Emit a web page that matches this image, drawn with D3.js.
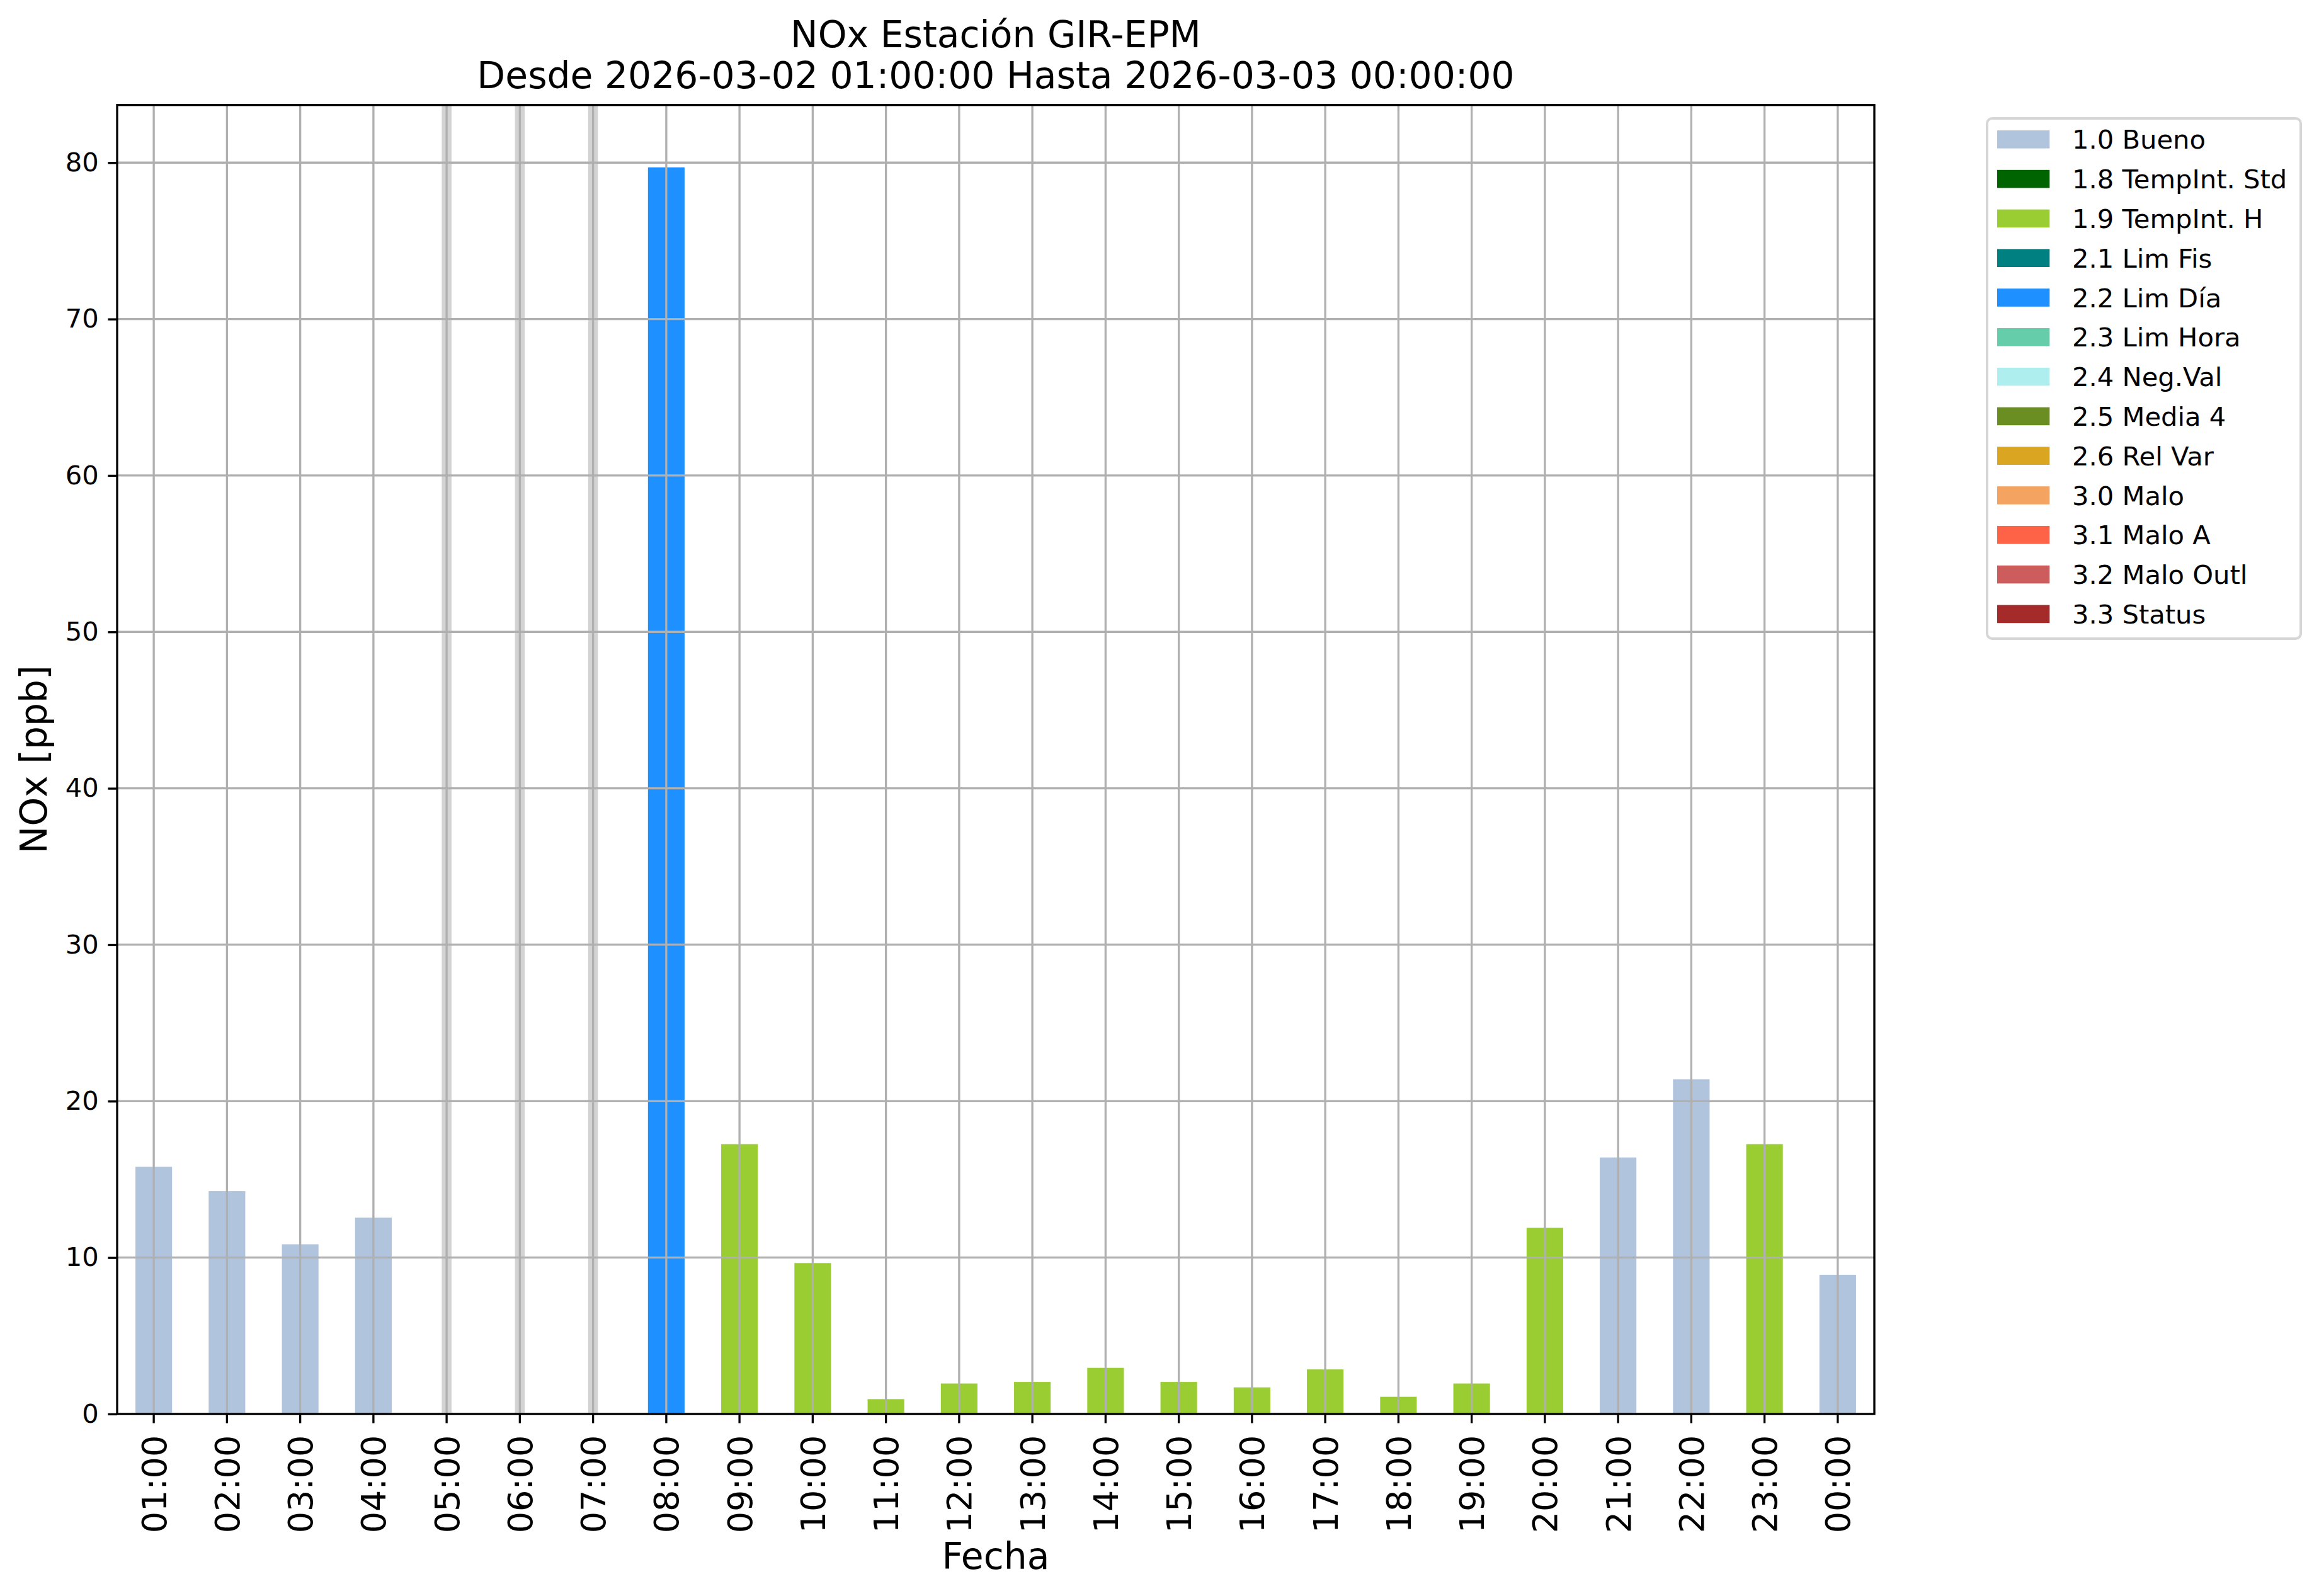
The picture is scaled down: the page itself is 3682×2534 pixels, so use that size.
<!DOCTYPE html>
<html>
<head>
<meta charset="utf-8">
<script src="https://cdn.jsdelivr.net/npm/d3@7"></script>
<style>
  body { margin: 0; background: #fff; }
  text { font-family: "DejaVu Sans", sans-serif; }
</style>
</head>
<body>
<div id="chart"></div>
<script>
// chart data
var hours = ["01:00", "02:00", "03:00", "04:00", "05:00", "06:00", "07:00", "08:00",
             "09:00", "10:00", "11:00", "12:00", "13:00", "14:00", "15:00", "16:00",
             "17:00", "18:00", "19:00", "20:00", "21:00", "22:00", "23:00", "00:00"];
var values = [15.8, 14.25, 10.85, 12.55, null, null, null, 79.7,
              17.25, 9.65, 0.95, 1.95, 2.05, 2.95, 2.05, 1.7,
              2.85, 1.1, 1.95, 11.9, 16.4, 21.4, 17.25, 8.9];
var flags = ["1.0", "1.0", "1.0", "1.0", null, null, null, "2.2",
             "1.9", "1.9", "1.9", "1.9", "1.9", "1.9", "1.9", "1.9",
             "1.9", "1.9", "1.9", "1.9", "1.0", "1.0", "1.9", "1.0"];
var flagCodes = ["1.0", "1.8", "1.9", "2.1", "2.2", "2.3", "2.4", "2.5", "2.6", "3.0", "3.1", "3.2", "3.3"];
var flagNames = ["1.0 Bueno", "1.8 TempInt. Std", "1.9 TempInt. H", "2.1 Lim Fis", "2.2 Lim Día",
                 "2.3 Lim Hora", "2.4 Neg.Val", "2.5 Media 4", "2.6 Rel Var", "3.0 Malo",
                 "3.1 Malo A", "3.2 Malo Outl", "3.3 Status"];
var flagColors = ["#b0c4de", "#006400", "#9acd32", "#008080", "#1e90ff", "#66cdaa", "#afeeee",
                  "#6b8e23", "#daa520", "#f4a460", "#ff6347", "#cd5c5c", "#a52a2a"];
var yTicks = [0, 10, 20, 30, 40, 50, 60, 70, 80];

var W = 3682, H = 2534;
var axLeft = 186, axRight = 2976, axTop = 166.7, axBottom = 2245;
var pt = 300 / 72;

var svg = d3.select("#chart").append("svg")
    .attr("width", W).attr("height", H);

var x = d3.scaleBand().domain(hours).range([axLeft, axRight]).padding(0);
var yMax = d3.max(values) * 1.05;
var y = d3.scaleLinear().domain([0, yMax]).range([axBottom, axTop]);
var color = d3.scaleOrdinal().domain(flagCodes).range(flagColors);

var data = hours.map(function(h, i){
    return {hour: h, value: values[i], flag: flags[i]};
});

// missing hours: light grey bands
svg.selectAll("rect.missing")
    .data(data.filter(function(d){ return d.value == null; }))
    .enter().append("rect")
    .attr("class", "missing")
    .attr("x", function(d){ return x(d.hour) + x.bandwidth() / 2 - 7.8; })
    .attr("width", 15.6)
    .attr("y", axTop)
    .attr("height", axBottom - axTop)
    .attr("fill", "#d3d3d3");

// bars
svg.selectAll("rect.bar")
    .data(data.filter(function(d){ return d.value != null; }))
    .enter().append("rect")
    .attr("class", "bar")
    .attr("x", function(d){ return x(d.hour) + x.bandwidth() * 0.25; })
    .attr("width", x.bandwidth() * 0.5)
    .attr("y", function(d){ return y(d.value); })
    .attr("height", function(d){ return axBottom - y(d.value); })
    .attr("fill", function(d){ return color(d.flag); });

// grid on top of the bars
var grid = svg.append("g").attr("stroke", "#b0b0b0").attr("stroke-width", 0.8 * pt);
grid.selectAll("line.v").data(hours).enter().append("line")
    .attr("x1", function(d){ return x(d) + x.bandwidth() / 2; })
    .attr("x2", function(d){ return x(d) + x.bandwidth() / 2; })
    .attr("y1", axTop).attr("y2", axBottom);
grid.selectAll("line.h").data(yTicks).enter().append("line")
    .attr("x1", axLeft).attr("x2", axRight)
    .attr("y1", function(d){ return y(d); })
    .attr("y2", function(d){ return y(d); });

// axes
var tickLen = 3.5 * pt;
var yAxis = d3.axisLeft(y).tickValues(yTicks).tickSize(tickLen).tickPadding(3.5 * pt);
var gy = svg.append("g").attr("transform", "translate(" + axLeft + ",0)").call(yAxis);
gy.select(".domain").remove();
gy.selectAll(".tick line").attr("stroke", "#000").attr("stroke-width", 0.8 * pt);
gy.selectAll(".tick text").attr("font-size", 10 * pt).attr("font-family", "DejaVu Sans").attr("fill", "#000");

var xAxis = d3.axisBottom(x).tickSize(tickLen).tickPadding(0);
var gx = svg.append("g").attr("transform", "translate(0," + axBottom + ")").call(xAxis);
gx.select(".domain").remove();
gx.selectAll(".tick line").attr("stroke", "#000").attr("stroke-width", 0.8 * pt);
gx.selectAll(".tick text")
    .attr("font-size", 54).attr("font-family", "DejaVu Sans").attr("fill", "#000")
    .attr("transform", "rotate(-90)")
    .attr("x", -(tickLen + 3.5 * pt + 4.5))
    .attr("y", 0)
    .attr("dy", "0.36em")
    .attr("text-anchor", "end");

// frame
svg.append("rect")
    .attr("x", axLeft).attr("y", axTop)
    .attr("width", axRight - axLeft).attr("height", axBottom - axTop)
    .attr("fill", "none").attr("stroke", "#000").attr("stroke-width", 0.8 * pt);

// titles
var cx = (axLeft + axRight) / 2;
svg.append("text").attr("x", cx).attr("y", 75).attr("text-anchor", "middle")
    .attr("font-size", 14 * pt).text("NOx Estación GIR-EPM");
svg.append("text").attr("x", cx).attr("y", 140).attr("text-anchor", "middle")
    .attr("font-size", 14 * pt).text("Desde 2026-03-02 01:00:00 Hasta 2026-03-03 00:00:00");
svg.append("text").attr("x", cx).attr("y", 2491).attr("text-anchor", "middle")
    .attr("font-size", 14 * pt).text("Fecha");
svg.append("text")
    .attr("transform", "translate(74," + ((axTop + axBottom) / 2) + ") rotate(-90)")
    .attr("text-anchor", "middle")
    .attr("font-size", 14 * pt).text("NOx [ppb]");

// legend
var legend = svg.append("g");
legend.append("rect")
    .attr("x", 3155).attr("y", 188)
    .attr("width", 498).attr("height", 826)
    .attr("rx", 8).attr("ry", 8)
    .attr("fill", "#fff").attr("stroke", "#d6d6d6").attr("stroke-width", 4);
var rows = legend.selectAll("g.row").data(flagNames).enter().append("g")
    .attr("transform", function(d, i){ return "translate(0," + (221.3 + i * 62.8) + ")"; });
rows.append("rect")
    .attr("x", 3171).attr("y", -14.3)
    .attr("width", 83.3).attr("height", 28.6)
    .attr("fill", function(d, i){ return flagColors[i]; });
rows.append("text")
    .attr("x", 3290).attr("y", 0).attr("dy", "0.36em")
    .attr("font-size", 10 * pt)
    .text(function(d){ return d; });
</script>
</body>
</html>
